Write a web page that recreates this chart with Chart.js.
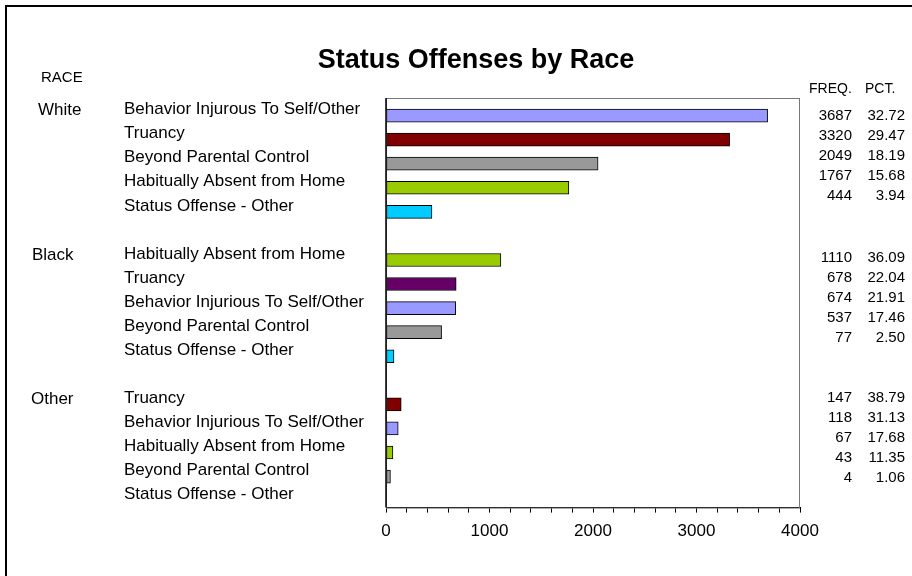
<!DOCTYPE html>
<html>
<head>
<meta charset="utf-8">
<script src="https://cdn.jsdelivr.net/npm/chart.js@4.4.0/dist/chart.umd.min.js"></script>
<style>
  html, body { margin: 0; padding: 0; background: #fff; }
</style>
</head>
<body>
<canvas id="graph" width="912" height="576"></canvas>
<script>
const races = ['White', 'Black', 'Other'];

const whiteOffenses = ['Behavior Injurous To Self/Other', 'Truancy', 'Beyond Parental Control', 'Habitually Absent from Home', 'Status Offense - Other'];
const whiteFreq = [3687, 3320, 2049, 1767, 444];
const whitePct = ['32.72', '29.47', '18.19', '15.68', '3.94'];

const blackOffenses = ['Habitually Absent from Home', 'Truancy', 'Behavior Injurious To Self/Other', 'Beyond Parental Control', 'Status Offense - Other'];
const blackFreq = [1110, 678, 674, 537, 77];
const blackPct = ['36.09', '22.04', '21.91', '17.46', '2.50'];

const otherOffenses = ['Truancy', 'Behavior Injurious To Self/Other', 'Habitually Absent from Home', 'Beyond Parental Control', 'Status Offense - Other'];
const otherFreq = [147, 118, 67, 43, 4];
const otherPct = ['38.79', '31.13', '17.68', '11.35', '1.06'];

const xMax = 4000;

// colours by offense, black truancy is drawn in purple in the original
const colors = {
  'Behavior Injurous To Self/Other': '#9999ff',
  'Behavior Injurious To Self/Other': '#9999ff',
  'Truancy': '#800000',
  'Beyond Parental Control': '#999999',
  'Habitually Absent from Home': '#99cc00',
  'Status Offense - Other': '#00ccff'
};
const blackTruancy = '#660066';
const raceX = [38, 32, 31];
const statShift = [0, -2, -6];

const groups = [
  {race: races[0], offenses: whiteOffenses, freq: whiteFreq, pct: whitePct},
  {race: races[1], offenses: blackOffenses, freq: blackFreq, pct: blackPct},
  {race: races[2], offenses: otherOffenses, freq: otherFreq, pct: otherPct}
];

// one blank row between race groups
let points = [], fills = [];
groups.forEach((g, gi) => {
  g.offenses.forEach((o, i) => {
    points.push({x: g.freq[i], y: gi * 6 + i});
    fills.push(g.race == 'Black' && o == 'Truancy' ? blackTruancy : colors[o]);
  });
});

const FONT = '"Liberation Sans", Arial, sans-serif';

const decor = {
  id: 'decor',
  afterDraw(chart) {
    const ctx = chart.ctx, a = chart.chartArea, y = chart.scales.y;
    ctx.save();

    // outer frame (left + top)
    ctx.strokeStyle = '#000';
    ctx.lineWidth = 2;
    ctx.beginPath();
    ctx.moveTo(6, 576); ctx.lineTo(6, 6); ctx.lineTo(912, 6);
    ctx.stroke();

    // plot box
    ctx.strokeStyle = '#777';
    ctx.lineWidth = 1;
    ctx.strokeRect(a.left + 0.5, a.top + 0.5, a.right - a.left - 1, a.bottom - a.top);
    ctx.strokeStyle = '#000';
    ctx.lineWidth = 1.5;
    ctx.beginPath();
    ctx.moveTo(a.left, a.top); ctx.lineTo(a.left, a.bottom);
    ctx.stroke();

    ctx.fillStyle = '#000';
    ctx.textBaseline = 'middle';

    // title
    ctx.font = 'bold 27px ' + FONT;
    ctx.textAlign = 'center';
    ctx.fillText('Status Offenses by Race', 476, 61);

    ctx.font = '15px ' + FONT;
    ctx.textAlign = 'left';
    ctx.fillText('RACE', 41, 78);
    ctx.font = '14px ' + FONT;
    ctx.fillText('FREQ.', 809, 89);
    ctx.fillText('PCT.', 865, 89);

    groups.forEach((g, gi) => {
      const base = y.getPixelForValue(gi * 6);
      ctx.font = '17px ' + FONT;
      ctx.textAlign = 'left';
      ctx.fillText(g.race, raceX[gi], base - 5);
      g.offenses.forEach((o, i) => {
        ctx.fillText(o, 124, y.getPixelForValue(gi * 6 + i) - 6);
      });
      ctx.font = '15px ' + FONT;
      ctx.textAlign = 'right';
      g.freq.forEach((f, i) => {
        const ty = base + statShift[gi] + 20 * i;
        ctx.fillText(String(f), 852, ty);
        ctx.fillText(g.pct[i], 905, ty);
      });
    });
    ctx.restore();
  }
};

new Chart(document.getElementById('graph').getContext('2d'), {
  type: 'bar',
  data: {
    datasets: [{
      data: points,
      backgroundColor: fills,
      borderColor: '#000',
      borderWidth: 1,
      borderSkipped: false,
      barThickness: 13
    }]
  },
  options: {
    indexAxis: 'y',
    responsive: false,
    animation: false,
    layout: {padding: {left: 386, right: 112, top: 98, bottom: 25}},
    plugins: {legend: {display: false}, tooltip: {enabled: false}},
    scales: {
      y: {type: 'linear', display: false, reverse: true, offset: false, min: -0.73, max: 16.29},
      x: {
        min: 0, max: xMax,
        grid: {drawOnChartArea: false, drawTicks: true, tickLength: 5, color: '#000'},
        border: {display: true, color: '#000', width: 1},
        ticks: {
          stepSize: 200, autoSkip: false, maxRotation: 0, padding: 9,
          color: '#000', font: {family: FONT, size: 17},
          callback: v => v % 1000 === 0 ? v : ''
        }
      }
    }
  },
  plugins: [decor]
});
</script>
</body>
</html>
